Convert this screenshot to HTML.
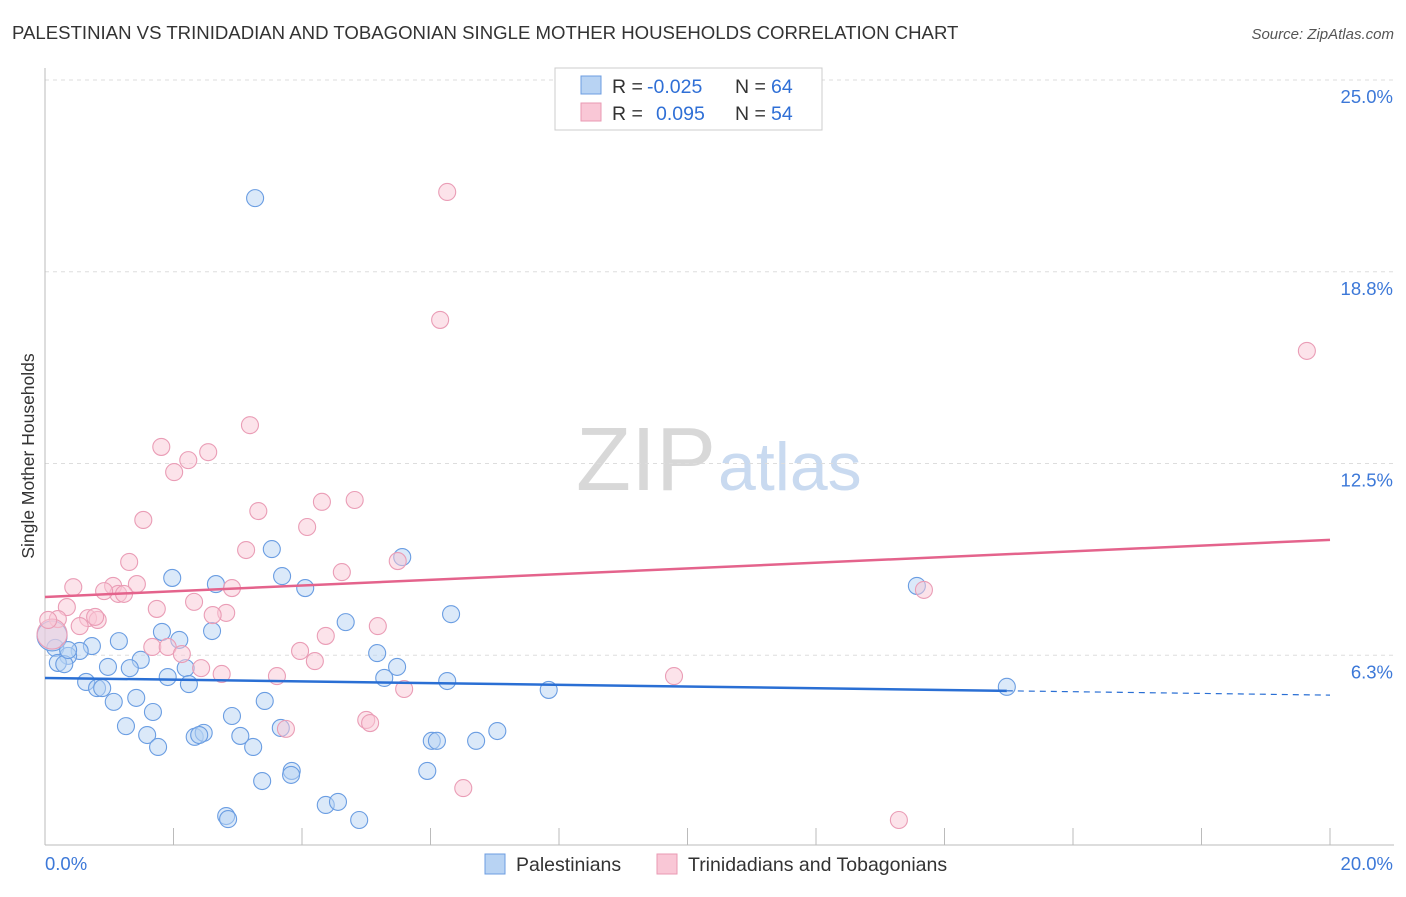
<!DOCTYPE html>
<html><head><meta charset="utf-8"><style>
body{margin:0;background:#fff;font-family:"Liberation Sans",sans-serif;}
svg text{font-family:"Liberation Sans",sans-serif;}
</style></head><body>
<svg id="chart" width="1406" height="892">
<text x="12" y="39" font-size="18.6" fill="#333">PALESTINIAN VS TRINIDADIAN AND TOBAGONIAN SINGLE MOTHER HOUSEHOLDS CORRELATION CHART</text>
<text x="1394" y="39" font-size="15" fill="#555" font-style="italic" text-anchor="end">Source: ZipAtlas.com</text>
<text x="716" y="490" font-size="90" fill="#d8d8d8" text-anchor="end" font-family="Liberation Serif">ZIP</text>
<text x="718" y="490" font-size="68" fill="#c9daf0">atlas</text>
<g id="grid"></g>
<g id="axes"></g>
<g id="points"></g>
<g id="trends"></g>
<text transform="translate(34,456) rotate(-90)" font-size="17.5" fill="#333" text-anchor="middle">Single Mother Households</text>
<g>
<rect x="555" y="68" width="267" height="62" fill="#fff" stroke="#ccc"/>
<rect x="581" y="76" width="20" height="18" fill="#b8d3f3" stroke="#6c9ce0"/>
<rect x="581" y="103" width="20" height="18" fill="#f9c7d6" stroke="#e99ab3"/>
<text x="612" y="93" font-size="19.5" fill="#333">R =</text>
<text x="647" y="93" font-size="19.5" fill="#2f6fd6">-0.025</text>
<text x="735" y="93" font-size="19.5" fill="#333">N =</text>
<text x="771" y="93" font-size="19.5" fill="#2f6fd6">64</text>
<text x="612" y="120" font-size="19.5" fill="#333">R =</text>
<text x="656" y="120" font-size="19.5" fill="#2f6fd6">0.095</text>
<text x="735" y="120" font-size="19.5" fill="#333">N =</text>
<text x="771" y="120" font-size="19.5" fill="#2f6fd6">54</text>
</g>
<g>
<rect x="485" y="854" width="20" height="20" fill="#b8d3f3" stroke="#6c9ce0"/>
<text x="516" y="871" font-size="19.5" fill="#333">Palestinians</text>
<rect x="657" y="854" width="20" height="20" fill="#f9c7d6" stroke="#e99ab3"/>
<text x="688" y="871" font-size="19.5" fill="#333">Trinidadians and Tobagonians</text>
</g>
</svg>
<script>
const xTicks=[0,2,4,6,8,10,12,14,16,18,20];
const yTicks=[6.25,12.5,18.75,25];
const yTickLabels=["6.3%","12.5%","18.8%","25.0%"];
const xEndLabels=["0.0%","20.0%"];
const blueX=[3.27,3.53,5.56,1.98,3.69,2.66,4.05,6.32,4.68,1.82,2.60,2.09,1.15,0.73,0.54,0.16,0.36,0.20,0.30,0.98,1.49,1.32,2.19,5.17,5.48,1.91,2.24,5.28,6.26,7.84,14.97,0.64,0.81,0.89,1.42,1.07,1.68,3.42,1.26,2.91,3.67,1.59,2.33,2.47,3.04,1.76,3.24,6.02,6.10,6.71,7.04,5.95,3.84,3.83,3.38,4.37,4.56,2.82,2.85,4.89,13.57,0.11,0.36,2.40];
const blueY=[21.15,9.71,9.45,8.77,8.83,8.57,8.44,7.59,7.33,7.01,7.04,6.75,6.71,6.55,6.39,6.49,6.23,6.00,5.96,5.87,6.10,5.83,5.83,6.32,5.87,5.54,5.31,5.51,5.41,5.12,5.22,5.38,5.18,5.18,4.86,4.73,4.40,4.76,3.94,4.27,3.88,3.65,3.59,3.72,3.62,3.26,3.26,3.46,3.46,3.46,3.78,2.48,2.48,2.35,2.15,1.37,1.47,1.01,0.91,0.88,8.51,6.88,6.42,3.65];
const pinkX=[6.26,6.15,19.64,3.19,1.81,2.54,2.23,2.01,3.32,1.53,4.31,4.82,4.08,3.13,4.62,5.49,1.31,0.44,1.06,1.43,1.14,1.23,2.91,0.92,2.32,1.74,2.82,2.61,0.34,0.20,0.67,0.82,0.78,0.54,4.37,5.18,3.97,1.67,1.91,2.13,4.20,2.43,2.75,3.61,5.59,9.79,13.68,5.00,5.06,3.75,6.51,13.29,0.11,0.05];
const pinkY=[21.35,17.18,16.17,13.75,13.04,12.87,12.61,12.22,10.95,10.66,11.25,11.31,10.43,9.68,8.96,9.32,9.29,8.47,8.51,8.57,8.25,8.25,8.44,8.34,7.99,7.76,7.63,7.56,7.82,7.43,7.46,7.40,7.50,7.20,6.88,7.20,6.39,6.52,6.52,6.29,6.06,5.83,5.64,5.57,5.15,5.57,8.38,4.14,4.04,3.85,1.92,0.88,6.94,7.40];
const blueTrend=[5.51,4.95];
const pinkTrend=[8.15,10.01];
const blueSolidEnd=14.97;

const NS="http://www.w3.org/2000/svg";
const X0=45,X1=1330,Y0=847,YS=30.68;
function sx(v){return X0+(X1-X0)*v/20;}
function sy(v){return Y0-v*YS;}
function mk(tag,parent,attrs){const e=document.createElementNS(NS,tag);for(const k in attrs)e.setAttribute(k,attrs[k]);parent.appendChild(e);return e;}
const grid=document.getElementById('grid'),axes=document.getElementById('axes'),pts=document.getElementById('points'),tr=document.getElementById('trends');
yTicks.forEach((t,i)=>{
 const l=mk('line',grid,{x1:X0,x2:1394,y1:sy(t),y2:sy(t),stroke:'#ddd','stroke-dasharray':'4,4'});
 
 
 const tx=mk('text',axes,{x:1393,y:sy(t)+23,'font-size':18.5,fill:'#3c78d8','text-anchor':'end'});
 tx.textContent=yTickLabels[i];
 
 
});
const ax=mk('line',axes,{x1:X0,x2:X0,y1:68,y2:845,stroke:'#bbb'});


const bx=mk('line',axes,{x1:X0,x2:1394,y1:845,y2:845,stroke:'#bbb'});


xTicks.forEach(t=>{
 const l=mk('line',axes,{x1:sx(t),x2:sx(t),y1:828,y2:845,stroke:'#bbb'});
 
 
});
[[0,'start',45],[20,'end',1393]].forEach((d,i)=>{
 const tx=mk('text',axes,{x:d[2],y:870,'font-size':18.5,fill:'#3c78d8','text-anchor':d[1]});
 tx.textContent=xEndLabels[i];
 
 
});
function drawPts(xs,ys,fill,stroke,name,bigIdx){
 xs.forEach((x,i)=>{
  const big=(i===bigIdx);
  const c=mk('circle',pts,{cx:sx(x),cy:sy(ys[i]),r:big?15:8.5,fill:fill,'fill-opacity':0.5,stroke:stroke,'stroke-width':1.1});
  
  
 });
}
drawPts(blueX,blueY,'#b8d3f3','#6a9de2','blue-point',61);
drawPts(pinkX,pinkY,'#f9c7d6','#ea9db6','pink-point',52);
function at(tv,x){return tv[0]+(tv[1]-tv[0])*x/20;}
const b1=mk('line',tr,{x1:sx(0),y1:sy(at(blueTrend,0)),x2:sx(blueSolidEnd),y2:sy(at(blueTrend,blueSolidEnd)),stroke:'#2a6fd4','stroke-width':2.5});


const b2=mk('line',tr,{x1:sx(blueSolidEnd),y1:sy(at(blueTrend,blueSolidEnd)),x2:sx(20),y2:sy(at(blueTrend,20)),stroke:'#2a6fd4','stroke-width':1.2,'stroke-dasharray':'6,5'});


const p1=mk('line',tr,{x1:sx(0),y1:sy(at(pinkTrend,0)),x2:sx(20),y2:sy(at(pinkTrend,20)),stroke:'#e4638c','stroke-width':2.5});


</script>
</body></html>
